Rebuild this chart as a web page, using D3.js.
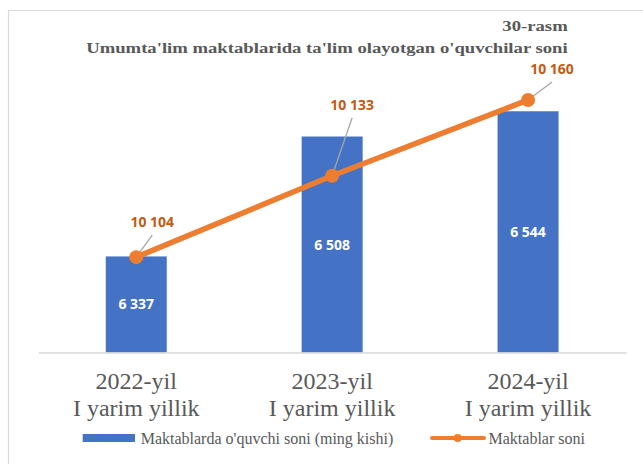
<!DOCTYPE html>
<html><head><meta charset="utf-8">
<script src="https://cdn.jsdelivr.net/npm/d3@7"></script>
<style>body{margin:0;background:#fff}svg{display:block}</style>
</head><body>
<svg id="c" width="643" height="464"></svg>
<script>
const categories = [["2022-yil","I yarim yillik"],["2023-yil","I yarim yillik"],["2024-yil","I yarim yillik"]];
const pupils = [6337, 6508, 6544];
const schools = [10104, 10133, 10160];
const pupilLabels = ["6 337","6 508","6 544"];
const schoolLabels = ["10 104","10 133","10 160"];
const seriesNames = ["Maktablarda o'quvchi soni (ming kishi)", "Maktablar soni"];
const titleText = ["30-rasm", "Umumta'lim maktablarida ta'lim olayotgan o'quvchilar soni"];
// manual label offsets (layout, px) for line data labels
const labelOffsets = [[16,-35],[20,-71],[24,-31]];

const svg = d3.select("#c");
const blue = "#4472C4", orange = "#ED7D31", labOrange = "#C55A11", grey = "#595959";

// chart border
svg.append("path").attr("d","M8.5,464 L8.5,10.5 L643,10.5").attr("fill","none").attr("stroke","#d9d9d9").attr("stroke-width",1.2);

const x = d3.scaleBand().domain(d3.range(categories.length)).range([38.3,626]).padding(0);
const y = d3.scaleLinear().domain([6200,6600]).range([352.5,72]);
const y2 = d3.scaleLinear().domain([10070,10170]).range([352.5,72]);
const bw = 61;
const cx = i => x(i) + x.bandwidth()/2;

// title (Times-like bold, horizontally widened)
[[titleText[0],31],[titleText[1],52.5]].forEach(([t,yy])=>{
  const g = svg.append("g").attr("transform",`translate(567.7,${yy}) scale(1.23,1)`);
  const el = g.append("text").attr("x",0).attr("y",0).attr("text-anchor","end")
    .attr("font-family","Liberation Serif").attr("font-weight","bold").attr("font-size",15.2).attr("fill",grey).text(t);
  if (t === titleText[1]) {
    const w = el.node().getComputedTextLength();
    const target = (567.7-88)/1.23;
    if (Math.abs(w-target) > 2) el.attr("textLength",target).attr("lengthAdjust","spacing");
  }
});

// bars
svg.selectAll("rect.bar").data(pupils).join("rect").attr("class","bar")
  .attr("x",(d,i)=>cx(i)-bw/2).attr("width",bw)
  .attr("y",d=>y(d)).attr("height",d=>y(6200)-y(d)).attr("fill",blue);

// axis line
const xAxis = d3.axisBottom(x).tickSize(0).tickFormat("");
const gx = svg.append("g").attr("transform","translate(0,352.5)").call(xAxis);
gx.select(".domain").attr("stroke","#d9d9d9").attr("stroke-width",1.5);

// category labels
categories.forEach((c,i)=>{
  const t = svg.append("text").attr("x",cx(i)).attr("y",389).attr("text-anchor","middle")
    .attr("font-family","Liberation Serif").attr("font-size",24).attr("fill",grey);
  t.append("tspan").attr("x",cx(i)).attr("dy",0).text(c[0]);
  t.append("tspan").attr("x",cx(i)).attr("dy",26.5).text(c[1]);
});

// bar labels
svg.selectAll("text.bl").data(pupils).join("text").attr("class","bl")
  .attr("x",(d,i)=>cx(i)).attr("y",d=>(y(d)+y(6200))/2+5)
  .attr("text-anchor","middle").attr("font-family","Open Sans").attr("font-weight","bold")
  .attr("font-size",14).attr("fill","#fff").text((d,i)=>pupilLabels[i]);

// leader lines
schools.forEach((d,i)=>{
  const px = cx(i), py = y2(d);
  svg.append("line").attr("x1",px).attr("y1",py)
    .attr("x2",px+labelOffsets[i][0]).attr("y2",py+labelOffsets[i][1]+13)
    .attr("stroke","#a6a6a6").attr("stroke-width",1.3);
});

// line
const line = d3.line().x((d,i)=>cx(i)).y(d=>y2(d));
svg.append("path").datum(schools).attr("d",line).attr("fill","none")
  .attr("stroke",orange).attr("stroke-width",5.5).attr("stroke-linecap","round");
svg.selectAll("circle.pt").data(schools).join("circle").attr("class","pt")
  .attr("cx",(d,i)=>cx(i)).attr("cy",d=>y2(d)).attr("r",7).attr("fill",orange);

// line labels
svg.selectAll("text.ll").data(schools).join("text").attr("class","ll")
  .attr("x",(d,i)=>cx(i)+labelOffsets[i][0]).attr("y",(d,i)=>y2(d)+labelOffsets[i][1]+5)
  .attr("text-anchor","middle").attr("font-family","Open Sans").attr("font-weight","bold")
  .attr("font-size",14).attr("fill",labOrange).text((d,i)=>schoolLabels[i]);

// legend
svg.append("rect").attr("x",82.7).attr("y",434).attr("width",52.3).attr("height",8).attr("fill",blue);
svg.append("text").attr("x",140.7).attr("y",443.5).attr("font-family","Liberation Serif").attr("font-size",16).attr("fill",grey).text(seriesNames[0]);
svg.append("line").attr("x1",432).attr("x2",484).attr("y1",438).attr("y2",438).attr("stroke",orange).attr("stroke-width",4).attr("stroke-linecap","round");
svg.append("circle").attr("cx",457.7).attr("cy",438).attr("r",4).attr("fill",orange);
svg.append("text").attr("x",488.5).attr("y",443.5).attr("font-family","Liberation Serif").attr("font-size",16).attr("fill",grey).text(seriesNames[1]);
</script>
</body></html>
